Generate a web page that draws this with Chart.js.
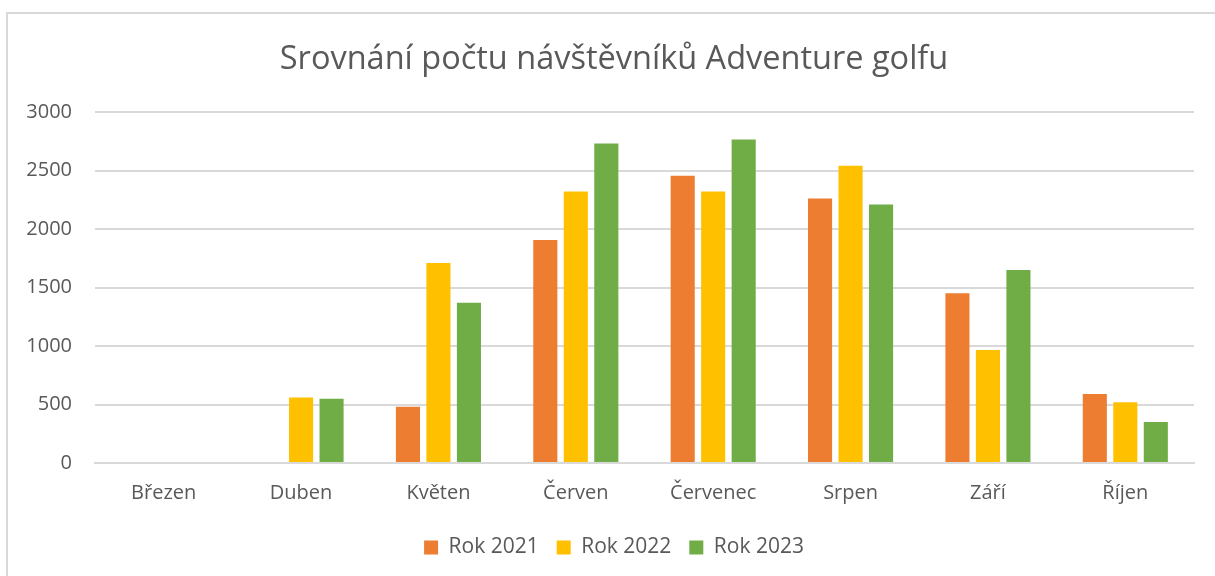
<!DOCTYPE html>
<html>
<head>
<meta charset="utf-8">
<script src="https://cdn.jsdelivr.net/npm/chart.js@4"></script>
<style>
  html, body { margin: 0; padding: 0; background: #fff; overflow: hidden; }
  #wrap { position: relative; width: 1215px; height: 576px; }
  #frame { position: absolute; left: 6px; top: 12px; width: 1220px; height: 600px;
           border: 2px solid #d9d9d9; box-sizing: border-box; }
  canvas { position: absolute; left: 0; top: 0; }
</style>
</head>
<body>
<div id="wrap">
  <div id="frame"></div>
  <canvas id="myChart" width="1215" height="576"></canvas>
</div>
<script>
const mesice = ['Březen', 'Duben', 'Květen', 'Červen', 'Červenec', 'Srpen', 'Září', 'Říjen'];
const rok2021 = [null, null, 480, 1905, 2455, 2260, 1450, 590];
const rok2022 = [null, 560, 1710, 2320, 2320, 2540, 965, 520];
const rok2023 = [null, 550, 1370, 2730, 2765, 2210, 1650, 350];
const yTicks = [0, 500, 1000, 1500, 2000, 2500, 3000];

const textColor = '#595959';
const font = 'Open Sans';

// tick labels stick out left of the padded box, so widen the label clip area
const labelRoom = {
  id: 'labelRoom',
  afterLayout(chart) { chart.scales.y.left = 0; }
};

const ctx = document.getElementById('myChart');
const myChart = new Chart(ctx, {
  type: 'bar',
  data: {
    labels: mesice,
    datasets: [
      { label: 'Rok 2021', data: rok2021, backgroundColor: '#ED7D31' },
      { label: 'Rok 2022', data: rok2022, backgroundColor: '#FFC000' },
      { label: 'Rok 2023', data: rok2023, backgroundColor: '#70AD47' }
    ]
  },
  plugins: [labelRoom],
  options: {
    responsive: false,
    animation: false,
    categoryPercentage: 0.666,
    barPercentage: 0.79,
    layout: { padding: { top: 0, left: 34, right: 21, bottom: 8 } },
    plugins: {
      title: {
        display: true,
        text: 'Srovnání počtu návštěvníků Adventure golfu',
        color: textColor,
        font: { family: font, size: 32.5, weight: 'normal' },
        padding: { top: 40, bottom: 33 }
      },
      legend: {
        position: 'bottom',
        labels: {
          color: textColor,
          font: { family: font, size: 21 },
          boxWidth: 14,
          boxHeight: 14,
          padding: 18
        }
      },
      tooltip: { enabled: false }
    },
    scales: {
      x: {
        grid: { display: false },
        border: { color: '#d9d9d9', width: 2 },
        ticks: { color: textColor, font: { family: font, size: 20 }, padding: 10 },
        afterFit: function (scale) { scale.height = 56; }
      },
      y: {
        min: 0,
        max: 3000,
        afterBuildTicks: function (scale) { scale.ticks = yTicks.map(v => ({ value: v })); },
        grid: { color: '#d9d9d9', lineWidth: 2, drawTicks: false },
        border: { display: false },
        ticks: {
          color: textColor,
          font: { family: font, size: 20 },
          padding: 23,
          callback: function (v) { return String(v); }
        },
        afterFit: function (scale) { scale.width = 61; }
      }
    }
  }
});
</script>
</body>
</html>
